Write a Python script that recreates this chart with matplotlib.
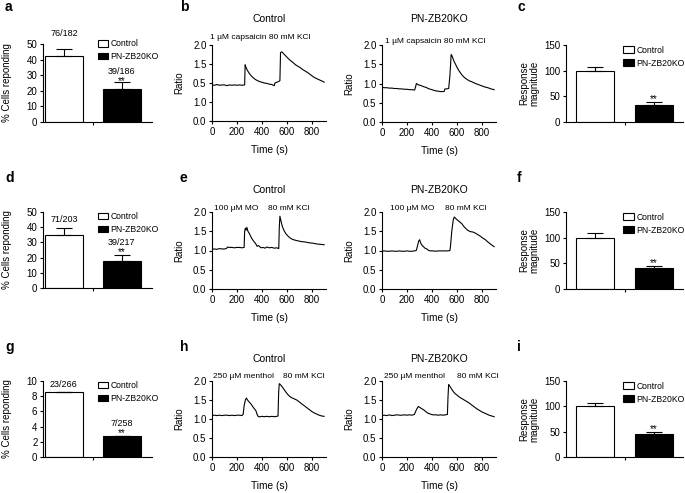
import matplotlib
matplotlib.use("Agg")
import matplotlib.pyplot as plt
from matplotlib.patches import Patch
import numpy as np

plt.rcParams['font.family'] = ['Liberation Sans', 'DejaVu Sans']
plt.rcParams['font.size'] = 7
plt.rcParams['axes.linewidth'] = 0.8
plt.rcParams['xtick.major.width'] = 0.8
plt.rcParams['ytick.major.width'] = 0.8
plt.rcParams['xtick.major.size'] = 2.5
plt.rcParams['ytick.major.size'] = 2.5
plt.rcParams['xtick.major.pad'] = 2
plt.rcParams['ytick.major.pad'] = 1.5

# ---- dados das barras ----
grupos = ['Control', 'PN-ZB20KO']

pct_capsaicin = [42, 21]
pct_capsaicin_sem = [5, 4.5]
n_capsaicin = ['76/182', '39/186']
mag_capsaicin = [100, 34]
mag_capsaicin_sem = [8, 4]

pct_mo = [35, 18]
pct_mo_sem = [4.5, 3.5]
n_mo = ['71/203', '39/217']
mag_mo = [100, 40]
mag_mo_sem = [10, 4]

pct_menthol = [8.6, 2.7]
pct_menthol_sem = [0, 0]
n_menthol = ['23/266', '7/258']
mag_menthol = [100, 45]
mag_menthol_sem = [7, 4]

# ---- traços de Ca2+ (tempo s, razão) ----
b_ctrl = [(0, 0.95), (20, 0.94), (40, 0.96), (60, 0.94), (80, 0.95), (100, 0.95), (120, 0.93),
          (140, 0.95), (160, 0.94), (180, 0.95), (200, 0.94), (220, 0.95), (240, 0.94), (262, 0.95),
          (266, 1.48), (272, 1.42), (280, 1.36), (290, 1.30), (300, 1.25), (315, 1.19), (330, 1.14),
          (345, 1.10), (360, 1.07), (380, 1.04), (400, 1.02), (420, 1.00), (440, 0.99), (460, 0.97),
          (480, 0.96), (500, 0.93), (505, 1.00), (520, 1.02), (535, 1.04), (545, 1.06), (550, 1.80),
          (560, 1.82), (575, 1.77), (590, 1.72), (610, 1.65), (630, 1.59), (650, 1.54), (670, 1.48),
          (690, 1.44), (710, 1.40), (730, 1.35), (750, 1.31), (770, 1.27), (790, 1.22), (810, 1.17),
          (830, 1.13), (850, 1.10), (870, 1.07), (890, 1.04), (900, 1.02)]
b_ko = [(0, 0.90), (20, 0.89), (40, 0.89), (60, 0.88), (80, 0.88), (100, 0.87), (120, 0.87),
        (140, 0.86), (160, 0.86), (180, 0.85), (200, 0.85), (220, 0.84), (240, 0.84), (262, 0.83),
        (270, 0.92), (276, 1.00), (285, 0.98), (295, 0.96), (310, 0.95), (325, 0.93), (340, 0.91),
        (355, 0.90), (370, 0.87), (390, 0.85), (410, 0.83), (430, 0.81), (450, 0.80), (470, 0.79),
        (490, 0.79), (500, 0.80), (505, 0.86), (520, 0.86), (535, 0.87), (545, 1.20), (555, 1.75),
        (562, 1.72), (575, 1.60), (590, 1.50), (605, 1.40), (620, 1.32), (640, 1.23), (660, 1.16),
        (680, 1.11), (700, 1.07), (725, 1.04), (750, 1.00), (775, 0.97), (800, 0.94), (825, 0.91),
        (850, 0.89), (875, 0.86), (900, 0.84)]
e_ctrl = [(0, 1.03), (20, 1.04), (40, 1.03), (60, 1.05), (80, 1.04), (100, 1.04), (115, 1.05),
          (125, 1.09), (140, 1.08), (160, 1.08), (180, 1.07), (200, 1.08), (220, 1.08), (240, 1.07),
          (258, 1.08), (262, 1.50), (268, 1.58), (274, 1.53), (280, 1.60), (286, 1.52), (292, 1.48),
          (300, 1.44), (310, 1.37), (322, 1.30), (335, 1.24), (350, 1.18), (362, 1.11), (372, 1.13),
          (382, 1.10), (395, 1.07), (410, 1.08), (425, 1.06), (440, 1.09), (460, 1.07), (480, 1.08),
          (500, 1.06), (520, 1.07), (536, 1.05), (540, 1.60), (545, 1.89), (555, 1.75), (565, 1.62),
          (578, 1.52), (592, 1.44), (608, 1.38), (625, 1.33), (645, 1.29), (665, 1.27), (690, 1.25),
          (720, 1.23), (750, 1.22), (780, 1.20), (810, 1.19), (840, 1.17), (870, 1.16), (900, 1.15)]
e_ko = [(0, 0.98), (20, 0.99), (40, 0.98), (60, 0.98), (80, 0.99), (100, 0.98), (120, 0.98),
        (140, 0.99), (160, 0.98), (180, 0.98), (200, 0.99), (220, 0.98), (240, 0.98), (260, 0.99),
        (275, 1.00), (285, 1.12), (295, 1.25), (302, 1.28), (310, 1.20), (320, 1.14), (332, 1.10),
        (345, 1.06), (360, 1.04), (375, 1.00), (390, 0.99), (410, 0.99), (430, 0.98), (450, 0.99),
        (470, 0.99), (490, 0.99), (510, 0.99), (530, 0.99), (545, 1.00), (550, 1.12), (560, 1.50),
        (572, 1.80), (580, 1.87), (595, 1.82), (610, 1.78), (625, 1.74), (640, 1.70), (655, 1.63),
        (670, 1.58), (690, 1.52), (710, 1.49), (730, 1.48), (750, 1.45), (770, 1.41), (790, 1.37),
        (810, 1.32), (830, 1.28), (850, 1.22), (870, 1.17), (890, 1.12), (900, 1.10)]
h_ctrl = [(0, 1.09), (20, 1.10), (40, 1.09), (60, 1.10), (80, 1.09), (100, 1.10), (120, 1.10),
          (140, 1.09), (160, 1.10), (180, 1.09), (200, 1.10), (220, 1.10), (240, 1.09), (250, 1.12),
          (258, 1.35), (268, 1.50), (276, 1.55), (285, 1.50), (298, 1.45), (312, 1.40), (326, 1.33),
          (340, 1.27), (352, 1.22), (362, 1.12), (372, 1.06), (385, 1.06), (400, 1.07), (420, 1.06),
          (440, 1.07), (460, 1.06), (480, 1.07), (500, 1.06), (520, 1.07), (530, 1.08), (535, 1.70),
          (540, 1.93), (550, 1.90), (565, 1.84), (580, 1.77), (595, 1.70), (610, 1.64), (625, 1.59),
          (640, 1.56), (660, 1.53), (680, 1.50), (700, 1.45), (720, 1.40), (740, 1.35), (760, 1.30),
          (780, 1.25), (800, 1.20), (820, 1.16), (840, 1.13), (860, 1.10), (880, 1.08), (900, 1.07)]
h_ko = [(0, 1.09), (20, 1.10), (40, 1.09), (60, 1.11), (80, 1.09), (100, 1.10), (120, 1.11),
        (140, 1.10), (160, 1.10), (180, 1.11), (200, 1.10), (220, 1.11), (240, 1.10), (260, 1.12),
        (270, 1.20), (282, 1.28), (292, 1.33), (305, 1.30), (320, 1.27), (335, 1.24), (350, 1.20),
        (365, 1.16), (380, 1.14), (395, 1.12), (410, 1.11), (430, 1.11), (450, 1.10), (470, 1.11),
        (490, 1.10), (510, 1.11), (525, 1.12), (530, 1.60), (535, 1.91), (545, 1.86), (560, 1.78),
        (575, 1.71), (590, 1.66), (605, 1.62), (620, 1.58), (640, 1.54), (660, 1.50), (680, 1.46),
        (700, 1.42), (720, 1.37), (740, 1.32), (760, 1.27), (780, 1.23), (800, 1.19), (820, 1.16),
        (840, 1.13), (860, 1.10), (880, 1.08), (900, 1.06)]

W, H = 685, 493
fig = plt.figure(figsize=(W / 100, H / 100), dpi=100)


def eixo_px(l, r, t, b):
    return fig.add_axes([l / W, 1 - b / H, (r - l) / W, (b - t) / H])


def limpa(ax):
    ax.spines['top'].set_visible(False)
    ax.spines['right'].set_visible(False)
    ax.tick_params(labelsize=7)


def painel_barra(ax, vals, sem, ymax, step, ylabel, xlim, leg_x, leg_y, ylab_x,
                 contagens=None, off_ctrl=7, off_ko=9, off_star=0):
    x = np.arange(2)
    ax.bar(x, vals, width=0.65, color=['white', 'black'], edgecolor='black', linewidth=0.8)
    ax.errorbar(x, vals, yerr=[[0, 0], sem], fmt='none', ecolor='black',
                elinewidth=0.8, capsize=6, capthick=0.8)
    ax.set_xlim(*xlim)
    ax.set_ylim(0, ymax)
    ax.set_yticks(np.arange(0, ymax + 0.01, step))
    ax.set_xticks([0.5])
    ax.set_xticklabels([''])
    ax.set_ylabel(ylabel, fontsize=7, linespacing=0.95)
    ax.yaxis.set_label_coords(ylab_x, 0.5)
    limpa(ax)
    topo = [v + s for v, s in zip(vals, sem)]
    if contagens is not None:
        ax.annotate(contagens[0], (0, topo[0]), xytext=(0, off_ctrl), textcoords='offset points',
                    ha='center', va='center', fontsize=6.5)
        ax.annotate(contagens[1], (1, topo[1]), xytext=(0, off_ko), textcoords='offset points',
                    ha='center', va='center', fontsize=6.5)
    ax.annotate('**', (1, topo[1]), xytext=(0, off_star), textcoords='offset points',
                ha='center', va='baseline', fontsize=7)
    handles = [Patch(facecolor='white', edgecolor='black', linewidth=0.8),
               Patch(facecolor='black', edgecolor='black', linewidth=0.8)]
    ax.legend(handles, grupos, loc='upper left', bbox_to_anchor=(leg_x, leg_y), frameon=False,
              fontsize=6.2, handlelength=1.2, handleheight=0.8, handletextpad=0.3,
              labelspacing=0.45, borderpad=0, borderaxespad=0)


def painel_traco(ax, traco, titulo, tit_y, estimulos, ytick_labels=None):
    t = [p[0] for p in traco]
    r = [p[1] for p in traco]
    ax.plot(t, r, color='black', linewidth=0.8)
    ax.set_xlim(0, 915)
    ax.set_ylim(0, 2.0)
    ax.set_xticks([0, 200, 400, 600, 800])
    ax.set_yticks([0, 0.5, 1.0, 1.5, 2.0])
    if ytick_labels is None:
        ytick_labels = ['0.0', '0.5', '1.0', '1.5', '2.0']
    ax.set_yticklabels(ytick_labels)
    ax.set_xlabel('Time (s)', fontsize=7.3)
    ax.xaxis.set_label_coords(0.5, -0.31)
    ax.set_ylabel('Ratio', fontsize=7)
    ax.yaxis.set_label_coords(-0.24, 0.5)
    ax.set_title(titulo, fontsize=7.5, y=tit_y, pad=0, va='center')
    for txt, xs, ys in estimulos:
        ax.text(xs, ys, txt, fontsize=6, ha='left', va='center', clip_on=False)
    limpa(ax)


# linha 1 - capsaicina
ax_a = eixo_px(43, 152, 44, 122)
painel_barra(ax_a, pct_capsaicin, pct_capsaicin_sem, 50, 10, '% Cells reponding', (-0.36, 1.52),
             0.5, 1.06, -0.28, n_capsaicin, off_ctrl=11, off_ko=8, off_star=-1)
ax_b1 = eixo_px(212, 326, 45, 121)
painel_traco(ax_b1, b_ctrl, 'Control', 1.34, [('1 \u00b5M capsaicin 80 mM KCl', -15, 2.2)],
             ytick_labels=['0.0', '1.0', '0.5', '1.5', '2.0'])
ax_b2 = eixo_px(382, 496, 45, 122)
painel_traco(ax_b2, b_ko, 'PN-ZB20KO', 1.34, [('1 \u00b5M capsaicin 80 mM KCl', 25, 2.09)])
ax_c = eixo_px(566, 683, 45, 122)
painel_barra(ax_c, mag_capsaicin, mag_capsaicin_sem, 150, 50, 'Response\nmagnitude', (-0.5, 1.5),
             0.49, 0.99, -0.23, off_star=0)

# linha 2 - MO
ax_d = eixo_px(43, 152, 212, 288)
painel_barra(ax_d, pct_mo, pct_mo_sem, 50, 10, '% Cells reponding', (-0.36, 1.52),
             0.5, 1.0, -0.28, n_mo, off_ctrl=6, off_ko=9.5, off_star=0)
ax_e1 = eixo_px(212, 326, 212, 289)
painel_traco(ax_e1, e_ctrl, 'Control', 1.28, [('100 \u00b5M MO', 20, 2.08), ('80 mM KCl', 450, 2.08)])
ax_e2 = eixo_px(382, 496, 212, 289)
painel_traco(ax_e2, e_ko, 'PN-ZB20KO', 1.28, [('100 \u00b5M MO', 66, 2.09), ('80 mM KCl', 506, 2.09)])
ax_f = eixo_px(566, 683, 212, 289)
painel_barra(ax_f, mag_mo, mag_mo_sem, 150, 50, 'Response\nmagnitude', (-0.5, 1.5),
             0.49, 0.99, -0.23, off_star=0)

# linha 3 - mentol
ax_g = eixo_px(43, 152, 381, 457)
painel_barra(ax_g, pct_menthol, pct_menthol_sem, 10, 2, '% Cells reponding', (-0.36, 1.52),
             0.5, 1.0, -0.28, n_menthol, off_ctrl=5, off_ko=9, off_star=0)
ax_h1 = eixo_px(212, 326, 381, 457)
painel_traco(ax_h1, h_ctrl, 'Control', 1.29, [('250 \u00b5M menthol', 5, 2.11), ('80 mM KCl', 570, 2.11)])
ax_h2 = eixo_px(382, 496, 381, 457)
painel_traco(ax_h2, h_ko, 'PN-ZB20KO', 1.29, [('250 \u00b5M menthol', 18, 2.11), ('80 mM KCl', 600, 2.11)])
ax_i = eixo_px(566, 683, 381, 457)
painel_barra(ax_i, mag_menthol, mag_menthol_sem, 150, 50, 'Response\nmagnitude', (-0.5, 1.5),
             0.49, 0.99, -0.23, off_star=0)

# letras dos painéis
letras = [('a', 5, 7), ('b', 180, 7), ('c', 517, 7),
          ('d', 5, 178), ('e', 180, 178), ('f', 517, 178),
          ('g', 5, 347), ('h', 180, 347), ('i', 517, 347)]
for let, lx, ly in letras:
    fig.text(lx / W, 1 - ly / H, let, fontsize=10, fontweight='bold', ha='left', va='center')

fig.savefig('out.png', dpi=100)
